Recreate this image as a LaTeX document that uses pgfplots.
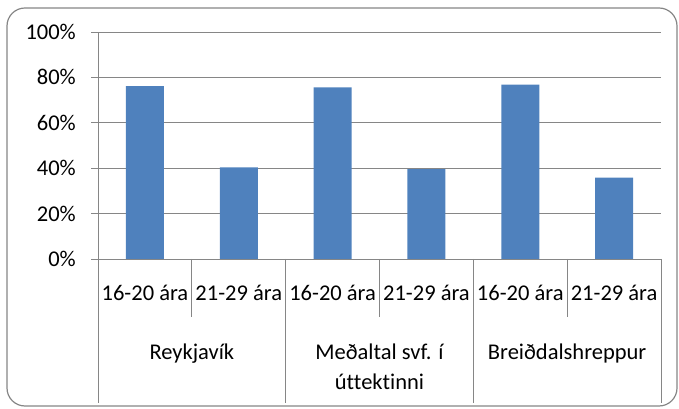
\documentclass[border=0pt]{standalone}
\usepackage{pgfplots}
\pgfplotsset{compat=1.18}
\usepackage{fontspec}
\setmainfont[Ligatures=NoCommon]{Carlito}
\definecolor{barblue}{HTML}{4F81BD}
\definecolor{axgray}{HTML}{868686}
\begin{document}
\begin{tikzpicture}[x=1pt,y=1pt]
\path (0,0) rectangle (679,409);
\draw[axgray, line width=1.2pt, rounded corners=18pt] (7,3) rectangle (677,401);
\begin{axis}[
    at={(98pt,150pt)}, anchor=south west,
    scale only axis, width=563pt, height=227pt,
    xmin=-0.5, xmax=5.5, ymin=0, ymax=100,
    ybar, bar width=38pt,
    axis x line*=bottom, axis y line*=left,
    axis line style={axgray, line width=0.8pt, -},
    ymajorgrids, grid style={axgray, line width=0.8pt},
    ytick={0,20,...,100},
    yticklabel={\pgfmathprintnumber{\tick}\%},
    tick align=outside, major tick length=7pt,
    y tick style={axgray, line width=0.8pt},
    x tick style={draw=none},
    xtick={0,...,5},
    xticklabels={16-20 ára,21-29 ára,16-20 ára,21-29 ára,16-20 ára,21-29 ára},
    xticklabel style={anchor=base, inner sep=0pt, yshift=-34pt},
    yticklabel style={anchor=east, inner sep=0pt, xshift=-15pt},
    font=\fontsize{22.5}{27}\selectfont,
    /pgf/number format/assume math mode=true,
    clip=false,
]
\addplot[fill=barblue, draw=none] coordinates {(0,76.1) (1,40.4) (2,75.6) (3,39.6) (4,76.8) (5,35.9)};
% separators of the category axis
\draw[axgray, line width=0.8pt] (axis cs:-0.5,0) -- ++(0pt,-144pt);
\draw[axgray, line width=0.8pt] (axis cs:1.5,0) -- ++(0pt,-144pt);
\draw[axgray, line width=0.8pt] (axis cs:3.5,0) -- ++(0pt,-144pt);
\draw[axgray, line width=0.8pt] (axis cs:5.5,0) -- ++(0pt,-144pt);
\draw[axgray, line width=0.8pt] (axis cs:0.5,0) -- ++(0pt,-58pt);
\draw[axgray, line width=0.8pt] (axis cs:2.5,0) -- ++(0pt,-58pt);
\draw[axgray, line width=0.8pt] (axis cs:4.5,0) -- ++(0pt,-58pt);
% group labels
\node[anchor=base, inner sep=0pt, yshift=-100pt] at (axis cs:0.5,0) {Reykjavík};
\node[anchor=base, inner sep=0pt, yshift=-100pt] at (axis cs:2.5,0) {Meðaltal svf. í};
\node[anchor=base, inner sep=0pt, yshift=-130pt] at (axis cs:2.5,0) {úttektinni};
\node[anchor=base, inner sep=0pt, yshift=-100pt] at (axis cs:4.5,0) {Breiðdalshreppur};
\end{axis}
\end{tikzpicture}
\end{document}
